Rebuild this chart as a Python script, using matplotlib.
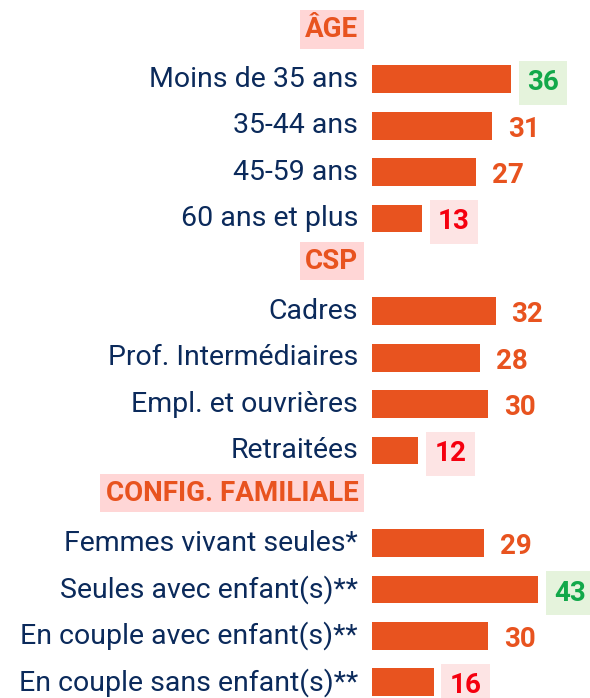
import numpy as np
import matplotlib
matplotlib.use("Agg")
import matplotlib.pyplot as plt

groups = ["ÂGE", "CSP", "CONFIG. FAMILIALE"]
labels = [
    ["Moins de 35 ans", "35-44 ans", "45-59 ans", "60 ans et plus"],
    ["Cadres", "Prof. Intermédiaires", "Empl. et ouvrières", "Retraitées"],
    ["Femmes vivant seules*", "Seules avec enfant(s)**",
     "En couple avec enfant(s)**", "En couple sans enfant(s)**"],
]
values = [
    [36, 31, 27, 13],
    [32, 28, 30, 12],
    [29, 43, 30, 16],
]
# significativement au-dessus (+) / en dessous (-) de la moyenne
flags = [
    ["+", "", "", "-"],
    ["", "", "", "-"],
    ["", "+", "", "-"],
]

BAR = "#E8531F"
NAVY = "#0B2A5B"
GREEN = "#12A84A"
GREEN_BG = "#E5F3DC"
RED = "#F5000F"
RED_BG = "#FDE4E4"
HEAD_BG = "#FFD6D6"

W, H, DPI = 590, 698, 100
fig = plt.figure(figsize=(W / DPI, H / DPI), dpi=DPI)
x0 = 372
ax = fig.add_axes([x0 / W, 0, (W - x0) / W, 1])
px_per_unit = 3.86
ax.set_xlim(0, (W - x0) / px_per_unit)
step = 46.38
top = 33
ax.set_ylim((H - top) / step, -top / step)
ax.axis("off")

lab_x = -14 / px_per_unit
row = 0
for g, labs, vals, fl in zip(groups, labels, values, flags):
    ax.annotate(g, (lab_x + 0.1, row), xytext=(0, 2.5), textcoords="offset points",
                ha="right", va="center", fontsize=20, annotation_clip=False,
                fontweight="bold", color=BAR, family="Roboto",
                bbox=dict(boxstyle="square,pad=0.2", fc=HEAD_BG, ec="none"))
    row += 1
    ys = np.arange(row, row + len(vals))
    ax.barh(ys, vals, height=0.6, color=BAR)
    for y, lab, v, f in zip(ys, labs, vals, fl):
        ax.text(lab_x, y, lab, ha="right", va="center", fontsize=20.5,
                color=NAVY, family="Roboto")
        col = GREEN if f == "+" else RED if f == "-" else BAR
        kw = {}
        if f:
            kw["bbox"] = dict(boxstyle="square,pad=0.3",
                              fc=GREEN_BG if f == "+" else RED_BG, ec="none")
        ax.annotate(str(v), (v, y), xytext=(11.5, -2.5), textcoords="offset points",
                    ha="left", va="center", fontsize=20, fontweight="bold",
                    color=col, family="Roboto", annotation_clip=False, **kw)
    row += len(vals)

fig.savefig("out.png", dpi=DPI)
